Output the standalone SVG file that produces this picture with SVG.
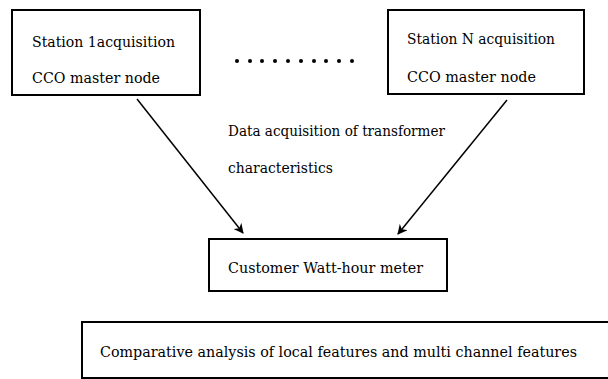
<svg xmlns="http://www.w3.org/2000/svg" width="608" height="379" viewBox="0 0 608 379">
<style>
.box{fill:#fff;stroke:#000;stroke-width:2}
.edge{stroke:#000;stroke-width:1.5;fill:none}
</style>
<defs>
<marker id="arr" markerWidth="10" markerHeight="10" refX="9" refY="5" orient="auto" markerUnits="userSpaceOnUse">
<path d="M0,0 L10,5 L0,10 L3,5 Z" fill="#000"/>
</marker>
</defs>
<rect width="608" height="379" fill="#fff"/>
<g font-family="DejaVu Serif" font-size="14" fill="#000">
<g id="node-station1">
<rect class="box" x="12" y="10" width="188" height="85"/>
<text x="32" y="47" textLength="143" lengthAdjust="spacingAndGlyphs">Station 1acquisition</text>
<text x="32" y="83" textLength="128" lengthAdjust="spacingAndGlyphs">CCO master node</text>
</g>
<g id="node-stationN">
<rect class="box" x="388" y="10" width="196" height="84"/>
<text x="407" y="44" textLength="148" lengthAdjust="spacingAndGlyphs">Station N acquisition</text>
<text x="407" y="82" textLength="129" lengthAdjust="spacingAndGlyphs">CCO master node</text>
</g>
<g id="dots">
<circle cx="237" cy="61" r="2"/><circle cx="250" cy="61" r="2"/><circle cx="262" cy="61" r="2"/><circle cx="275" cy="61" r="2"/><circle cx="288" cy="61" r="2"/><circle cx="301" cy="61" r="2"/><circle cx="314" cy="61" r="2"/><circle cx="326" cy="61" r="2"/><circle cx="339" cy="61" r="2"/><circle cx="352" cy="61" r="2"/>
</g>
<g id="label">
<text x="228" y="136" textLength="217" lengthAdjust="spacingAndGlyphs">Data acquisition of transformer</text>
<text x="228" y="173" textLength="105" lengthAdjust="spacingAndGlyphs">characteristics</text>
</g>
<g id="connectors">
<line class="edge" x1="137" y1="99" x2="243" y2="233" marker-end="url(#arr)"/>
<line class="edge" x1="507" y1="100" x2="398" y2="234" marker-end="url(#arr)"/>
</g>
<g id="node-meter">
<rect class="box" x="209" y="239" width="238" height="52"/>
<text x="228" y="273" textLength="195" lengthAdjust="spacingAndGlyphs">Customer Watt-hour meter</text>
</g>
<g id="node-analysis">
<rect class="box" x="82" y="322" width="530" height="56"/>
<text x="100" y="357" textLength="477" lengthAdjust="spacingAndGlyphs">Comparative analysis of local features and multi channel features</text>
</g>
</g>
</svg>
